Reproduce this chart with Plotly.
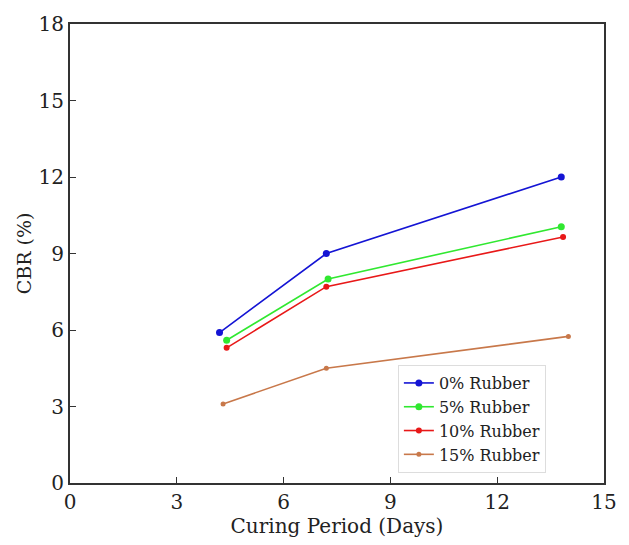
import plotly.graph_objects as go

series_names = ["0% Rubber", "5% Rubber", "10% Rubber", "15% Rubber"]
x_0 = [4.2, 7.2, 13.8]
y_0 = [5.9, 9.0, 12.0]
x_5 = [4.4, 7.25, 13.8]
y_5 = [5.6, 8.0, 10.05]
x_10 = [4.4, 7.2, 13.85]
y_10 = [5.3, 7.7, 9.65]
x_15 = [4.3, 7.2, 14.0]
y_15 = [3.1, 4.5, 5.75]
x_ticks = [0, 3, 6, 9, 12, 15]
y_ticks = [0, 3, 6, 9, 12, 15, 18]

colors = ["#1414d4", "#30e830", "#e81818", "#c8784a"]
msizes = [7, 7, 6, 5]
xs = [x_0, x_5, x_10, x_15]
ys = [y_0, y_5, y_10, y_15]

fig = go.Figure()
for name, x, y, c, ms in zip(series_names, xs, ys, colors, msizes):
    fig.add_trace(go.Scatter(x=x, y=y, mode="lines+markers", name=name,
                             line=dict(color=c, width=1.6),
                             marker=dict(color=c, size=ms)))

font = "DejaVu Serif, Liberation Serif, serif"
fig.update_layout(
    width=629, height=545,
    margin=dict(l=70, r=17, t=13, b=62),
    paper_bgcolor="white", plot_bgcolor="white",
    font=dict(family=font, color="#222"),
    showlegend=True,
    legend=dict(x=0.614, y=0.257, xanchor="left", yanchor="top",
                bgcolor="white", bordercolor="#dddddd", borderwidth=1,
                font=dict(size=16, family=font), tracegroupgap=0,
                itemwidth=30),
    xaxis=dict(range=[0, 15], tickvals=x_ticks, showgrid=False, zeroline=False,
               showline=True, linecolor="#333", linewidth=2, mirror=True,
               ticks="inside", ticklen=6, tickcolor="#333",
               tickfont=dict(size=20),
               title=dict(text="Curing Period (Days)", font=dict(size=20), standoff=2)),
    yaxis=dict(range=[0, 18], tickvals=y_ticks, showgrid=False, zeroline=False,
               showline=True, linecolor="#333", linewidth=2, mirror=True,
               ticks="inside", ticklen=6, tickcolor="#333",
               tickfont=dict(size=20),
               title=dict(text="CBR (%)", font=dict(size=19), standoff=2)),
)
fig.write_html("out.html")
